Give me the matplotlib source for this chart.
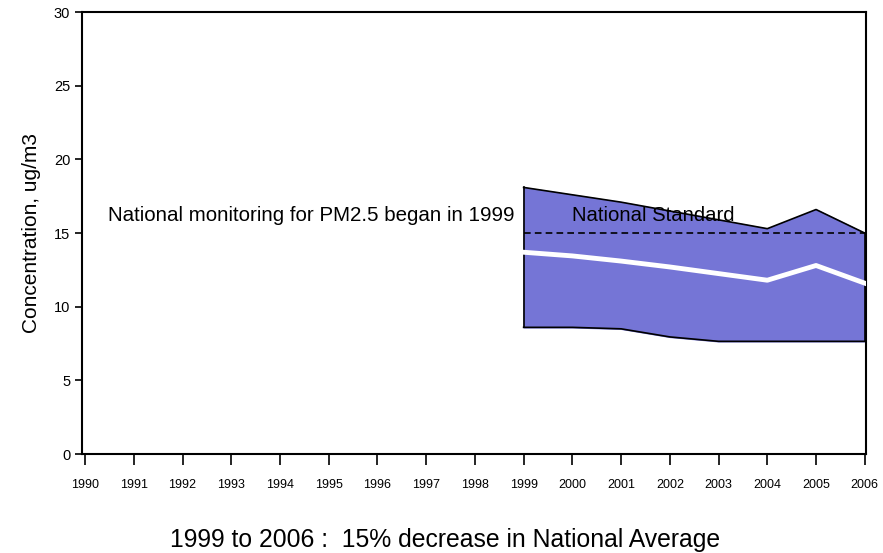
import numpy as np
import matplotlib.pyplot as plt

plt.rcParams['font.family'] = ['Liberation Sans', 'DejaVu Sans']

years = [1999, 2000, 2001, 2002, 2003, 2004, 2005, 2006]
upper = [18.1, 17.6, 17.1, 16.5, 15.9, 15.3, 16.6, 15.0]
lower = [8.6, 8.6, 8.5, 7.95, 7.65, 7.65, 7.65, 7.65]
mean = [13.7, 13.45, 13.1, 12.7, 12.25, 11.8, 12.8, 11.6]
standard = 15
tick_years = list(range(1990, 2007))

fig = plt.figure(figsize=(8.83, 5.53), dpi=100)
ax = fig.add_axes([0.093, 0.179, 0.888, 0.799])

# shaded band between low and high concentrations, national average in white
ax.fill_between(years, lower, upper, color='#7575d6', zorder=1)
ax.plot(years, upper, color='black', lw=1.2, zorder=2)
ax.plot(years, lower, color='black', lw=1.2, zorder=2)
ax.plot([years[0], years[0]], [lower[0], upper[0]], color='black', lw=1.2, zorder=2)
ax.plot([years[-1], years[-1]], [lower[-1], upper[-1]], color='black', lw=1.2, zorder=2)
ax.plot(years, mean, color='white', lw=3.5, zorder=3)
ax.plot([years[0], years[-1]], [standard, standard], color='black', lw=1.2,
        ls=(0, (4, 2.5)), zorder=4)

ax.text(1990.47, 16.2, 'National monitoring for PM2.5 began in 1999', fontsize=14.8,
        va='center', ha='left')
ax.text(2000.0, 16.2, 'National Standard', fontsize=14.6, va='center', ha='left')

ax.set_xlim(1989.94, 2006.03)
ax.set_ylim(0, 30)
ax.set_xticks(tick_years)
ax.set_xticklabels([str(y) for y in tick_years], fontsize=9)
ax.set_yticks([0, 5, 10, 15, 20, 25, 30])
ax.tick_params(axis='x', length=8, width=1.2, pad=10)
ax.tick_params(axis='y', length=5, width=1.2, labelsize=10.5)
for s in ax.spines.values():
    s.set_linewidth(1.5)
ax.set_ylabel('Concentration, ug/m3', fontsize=15, labelpad=9)

fig.text(0.504, 0.024, '1999 to 2006 :  15% decrease in National Average',
         fontsize=17.8, ha='center', va='center')

fig.savefig('out.png', dpi=100)
